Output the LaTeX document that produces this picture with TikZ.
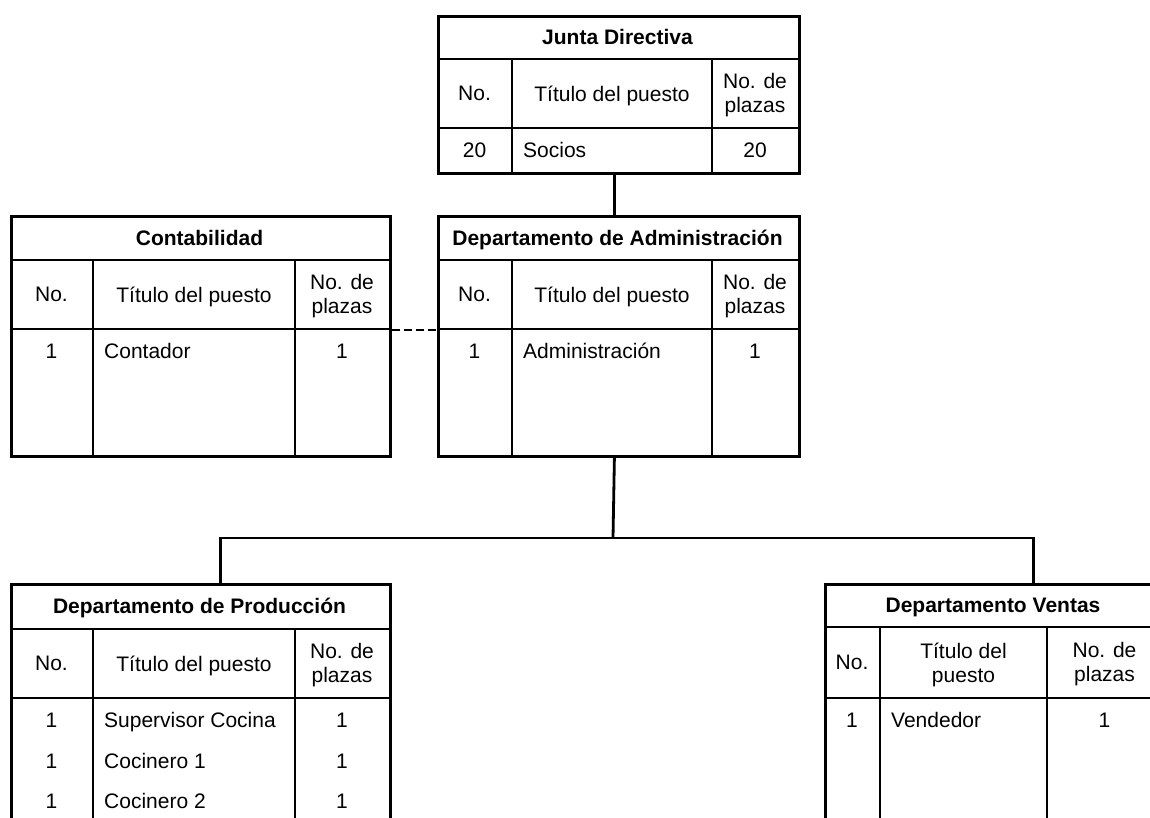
\documentclass[tikz,border=0pt]{standalone}
\usepackage{fontspec}
\setmainfont{Liberation Sans}
\begin{document}
\begin{tikzpicture}[x=1pt,y=-1pt,
  txt/.style={font=\fontsize{21}{24}\selectfont, inner sep=0pt, align=center},
  hdr/.style={font=\bfseries\fontsize{21}{24}\selectfont, inner sep=0pt, anchor=base},
  frame/.style={draw, line width=2.8pt, inner sep=0pt, anchor=north west},
  grid/.style={line width=2.8pt},
  conn/.style={line width=2.8pt},
  dashconn/.style={line width=2pt, dash pattern=on 8pt off 4pt}]
\useasboundingbox (0,0) rectangle (1150,817);
\clip (0,0) rectangle (1150,817);

% ---------- Junta Directiva ----------
\node[frame, minimum width=361pt, minimum height=157pt] (junta) at (437,15) {};
\draw[grid] (437,59) -- (798,59);
\draw[grid] (437,128) -- (798,128);
\draw[grid] (512,59) -- (512,172);
\draw[grid] (712,59) -- (712,172);
\node[hdr] (juntaT) at (617.5,44.5) {Junta Directiva};
\node[txt] (juntaH1) at (474.5,93.5) {No.};
\node[txt, anchor=base] (juntaH2) at (612,101) {Título del puesto};
\node[txt] (juntaH3) at (755,95.5) {No. de\\plazas};
\node[txt, anchor=base] (juntaD1) at (474.5,157) {20};
\node[txt, anchor=base west] (juntaD2) at (523,157) {Socios};
\node[txt, anchor=base] (juntaD3) at (755,157) {20};

% ---------- Contabilidad ----------
\node[frame, minimum width=379pt, minimum height=240pt] (contab) at (10,215) {};
\draw[grid] (10,260) -- (389,260);
\draw[grid] (10,329) -- (389,329);
\draw[grid] (93,260) -- (93,455);
\draw[grid] (295,260) -- (295,455);
\node[hdr] (contabT) at (199.5,245) {Contabilidad};
\node[txt] (contabH1) at (51.5,294.5) {No.};
\node[txt, anchor=base] (contabH2) at (194,302) {Título del puesto};
\node[txt] (contabH3) at (342,296.5) {No. de\\plazas};
\node[txt, anchor=base] (contabD1) at (51.5,358) {1};
\node[txt, anchor=base west] (contabD2) at (104,358) {Contador};
\node[txt, anchor=base] (contabD3) at (342,358) {1};

% ---------- Departamento de Administracion ----------
\node[frame, minimum width=361pt, minimum height=240pt] (admin) at (437,215) {};
\draw[grid] (437,260) -- (798,260);
\draw[grid] (437,329) -- (798,329);
\draw[grid] (512,260) -- (512,455);
\draw[grid] (712,260) -- (712,455);
\node[hdr] (adminT) at (617.5,245) {Departamento de Administración};
\node[txt] (adminH1) at (474.5,294.5) {No.};
\node[txt, anchor=base] (adminH2) at (612,302) {Título del puesto};
\node[txt] (adminH3) at (755,296.5) {No. de\\plazas};
\node[txt, anchor=base] (adminD1) at (474.5,358) {1};
\node[txt, anchor=base west] (adminD2) at (523,358) {Administración};
\node[txt, anchor=base] (adminD3) at (755,358) {1};

% ---------- Departamento de Produccion ----------
\node[frame, minimum width=379pt, minimum height=250pt] (prod) at (10,583) {};
\draw[grid] (10,629) -- (389,629);
\draw[grid] (10,698) -- (389,698);
\draw[grid] (93,629) -- (93,833);
\draw[grid] (295,629) -- (295,833);
\node[hdr] (prodT) at (199.5,613.5) {Departamento de Producción};
\node[txt] (prodH1) at (51.5,663.5) {No.};
\node[txt, anchor=base] (prodH2) at (194,671) {Título del puesto};
\node[txt] (prodH3) at (342,665.5) {No. de\\plazas};
\node[txt, anchor=base] (prodA1) at (51.5,727) {1};
\node[txt, anchor=base west] (prodA2) at (104,727) {Supervisor Cocina};
\node[txt, anchor=base] (prodA3) at (342,727) {1};
\node[txt, anchor=base] (prodB1) at (51.5,768) {1};
\node[txt, anchor=base west] (prodB2) at (104,768) {Cocinero 1};
\node[txt, anchor=base] (prodB3) at (342,768) {1};
\node[txt, anchor=base] (prodC1) at (51.5,808) {1};
\node[txt, anchor=base west] (prodC2) at (104,808) {Cocinero 2};
\node[txt, anchor=base] (prodC3) at (342,808) {1};

% ---------- Departamento Ventas ----------
\node[frame, minimum width=338pt, minimum height=250pt] (ventas) at (824,583) {};
\draw[grid] (824,627) -- (1162,627);
\draw[grid] (824,698) -- (1162,698);
\draw[grid] (880,627) -- (880,833);
\draw[grid] (1047,627) -- (1047,833);
\node[hdr] (ventasT) at (993,612.5) {Departamento Ventas};
\node[txt] (ventasH1) at (852,662.5) {No.};
\node[txt] (ventasH2) at (963.5,664.5) {Título del\\puesto};
\node[txt] (ventasH3) at (1104.5,664.5) {No. de\\plazas};
\node[txt, anchor=base] (ventasD1) at (852,727) {1};
\node[txt, anchor=base west] (ventasD2) at (891,727) {Vendedor};
\node[txt, anchor=base] (ventasD3) at (1104.5,727) {1};

% ---------- Connectors ----------
\coordinate (bus) at (613,538);
\draw[conn] ([xshift=-4.5pt]junta.south) -- ([xshift=-4.5pt]admin.north);
\draw[conn] ([xshift=-4.5pt]admin.south) -- (bus);
\draw[conn] ([xshift=19.5pt]prod.north) |- (bus) -| ([xshift=39pt]ventas.north);
\draw[dashconn] ([yshift=6pt]contab.east) -- ([yshift=6pt]admin.west);
\end{tikzpicture}
\end{document}
